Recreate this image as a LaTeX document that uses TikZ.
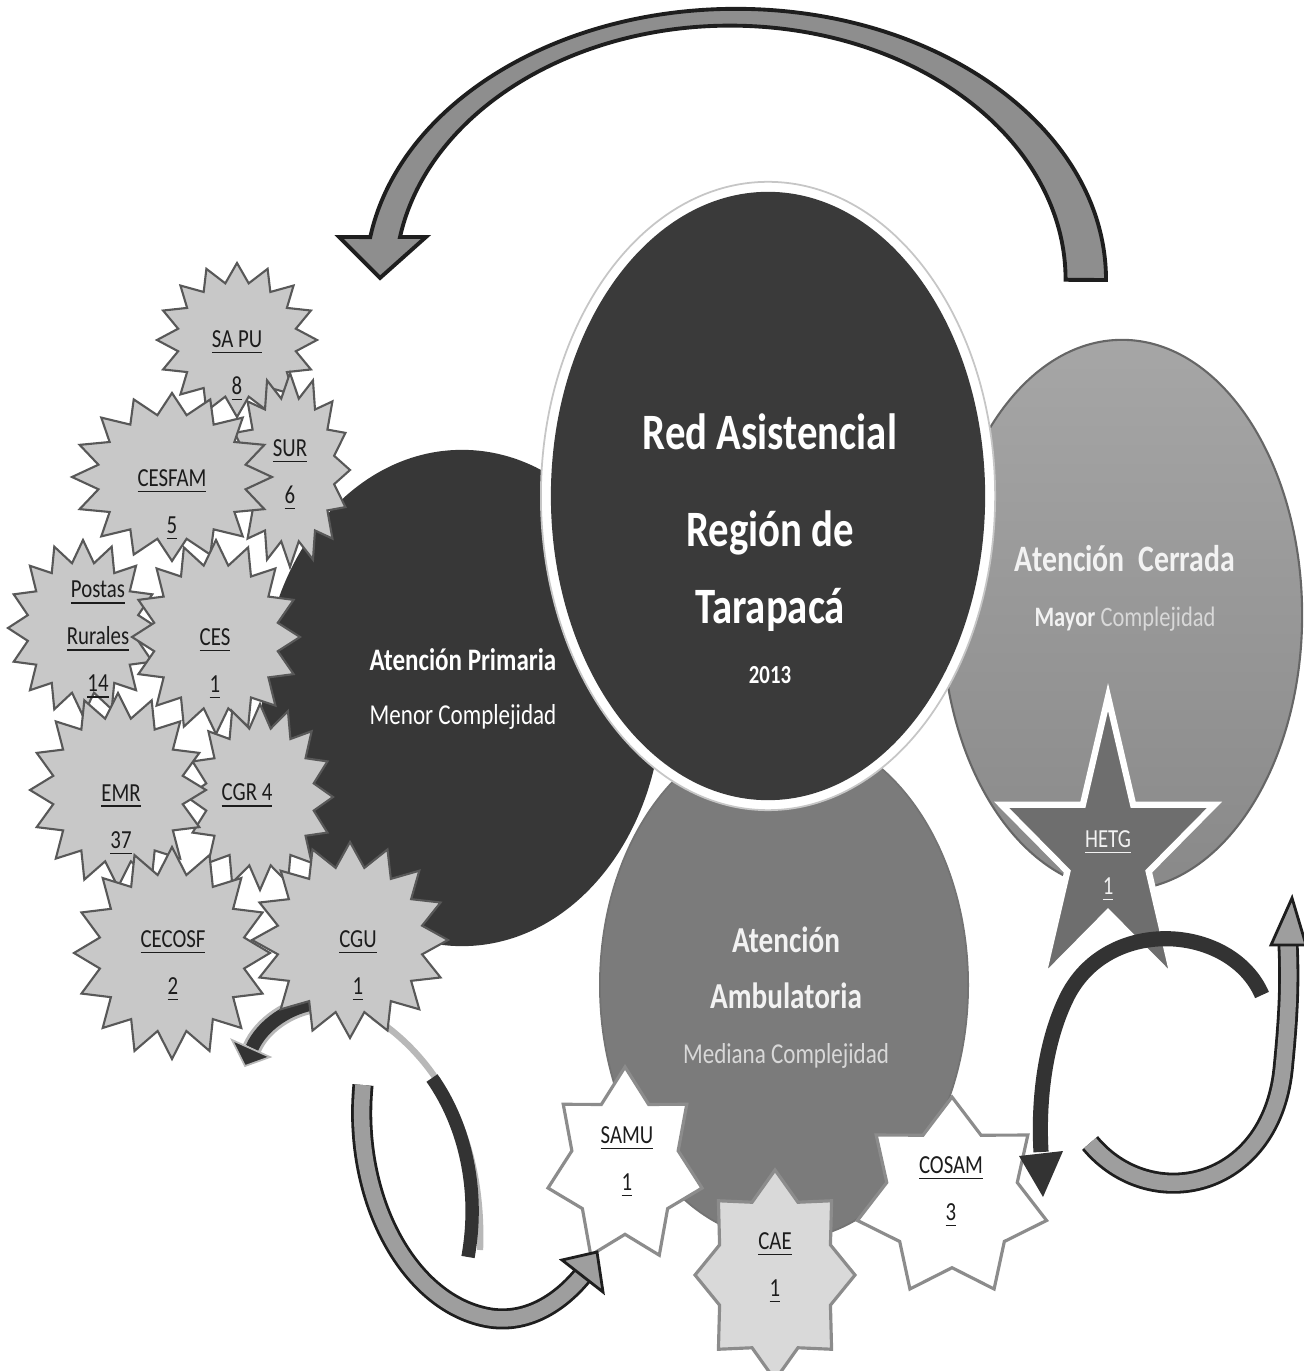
\documentclass[tikz,border=0pt]{standalone}
\usepackage{fontspec}
\setmainfont{Carlito}[FakeStretch=0.8]

\definecolor{coredark}{HTML}{3A3A3A}
\definecolor{primdark}{HTML}{373737}
\definecolor{ambgray}{HTML}{7B7B7B}
\definecolor{cerrtop}{HTML}{A6A6A6}
\definecolor{cerrbot}{HTML}{898989}
\definecolor{hetggray}{HTML}{6E6E6E}
\definecolor{burstgray}{HTML}{C8C8C8}
\definecolor{burstline}{HTML}{585858}
\definecolor{smallline}{HTML}{8C8C8C}
\definecolor{caegray}{HTML}{D9D9D9}
\definecolor{arrowgray}{HTML}{8E8E8E}
\definecolor{arrowline}{HTML}{1E1E1E}
\definecolor{bandgray}{HTML}{9E9E9E}
\definecolor{banddark}{HTML}{333333}
\definecolor{halogray}{HTML}{B8B8B8}
\definecolor{lbltext}{HTML}{1C1C1C}
\definecolor{softwhite}{HTML}{F2F2F2}
\definecolor{subwhite}{HTML}{D8D8D8}

% estrella de #6 puntas, centro (#2,#3), radios #4 y #5, razon interior #7
\newcommand\burst[7][]{%
  \pgfmathtruncatemacro\burstlast{2*#6-1}%
  \filldraw[#1] (#2,{#3-#5})
    \foreach \k [evaluate=\k as \rr using {mod(\k,2)==0 ? 1 : #7}] in {1,...,\burstlast}
      { -- ({#2+\rr*#4*cos(90+180*\k/#6)},{#3-\rr*#5*sin(90+180*\k/#6)}) }
    -- cycle;}

\begin{document}
\begin{tikzpicture}[x=0.01cm, y=-0.01cm,
    grayburst/.style={fill=burstgray, draw=burstline, line width=0.6pt, line join=miter},
    whiteburst/.style={fill=white, draw=smallline, line width=0.9pt, line join=miter},
    caeburst/.style={fill=caegray, draw=smallline, line width=0.9pt, line join=miter},
    hetgburst/.style={fill=hetggray, draw=white, line width=1.8pt, line join=miter},
    toparrow/.style={fill=arrowgray, draw=arrowline, line width=1.1pt, line join=miter},
    band/.style={draw=arrowline, double=bandgray, double distance=4.4pt, line width=0.8pt},
    darkband/.style={draw=banddark, line width=3.8pt},
    halo/.style={draw=halogray, line width=1.8pt},
    grayhead/.style={fill=bandgray, draw=arrowline, line width=0.8pt, line join=miter},
    darkhead/.style={fill=banddark, draw=banddark, line width=0.5pt, line join=miter},
    burstlbl/.style={font=\fontsize{7.4}{13.4}\selectfont, text=lbltext, align=center, inner sep=0pt},
    corelbl/.style={font=\fontsize{14.5}{21.9}\selectfont\bfseries, text=white, align=center, inner sep=0pt},
    yearlbl/.style={font=\fontsize{7.4}{9}\selectfont\bfseries, text=white, inner sep=0pt},
    primlbl/.style={font=\fontsize{8.9}{15.1}\selectfont, text=white, align=center, inner sep=0pt},
    cerrlbl/.style={font=\fontsize{10.6}{15.6}\selectfont, text=softwhite, align=center, inner sep=0pt},
    amblbl/.style={font=\fontsize{10.4}{15.8}\selectfont, text=softwhite, align=center, inner sep=0pt}
]
\useasboundingbox (0,0) rectangle (1303,1371);

% --- flecha superior ---
\filldraw[toparrow] (1106,280) arc[start angle=0, end angle=170.9, x radius=3.70cm, y radius=2.71cm]
    -- (339,237) -- (380,278) -- (426,237) -- (400,237)
    arc[start angle=170.3, end angle=0, x radius=3.35cm, y radius=2.54cm] -- cycle;

% --- niveles de atencion ---
\draw[top color=cerrtop, bottom color=cerrbot, draw=black!60, line width=0.6pt]
    (1122,615) ellipse [x radius=1.80cm, y radius=2.75cm];
\burst[hetgburst]{1108}{853}{112}{156}{5}{0.382}
\filldraw[fill=ambgray, draw=black!55, line width=0.5pt] (784,985) ellipse [x radius=1.84cm, y radius=2.55cm];
\fill[primdark] (462,698) ellipse [x radius=2.00cm, y radius=2.48cm];
\filldraw[fill=white, draw=gray!45, line width=0.5pt] (768,496) ellipse [x radius=2.27cm, y radius=3.14cm];
\fill[coredark] (768,496) ellipse [x radius=2.17cm, y radius=3.04cm];

% --- establecimientos de atencion primaria ---
\burst[grayburst]{237}{340}{80}{77}{16}{0.75}
\burst[grayburst]{290}{470}{60}{97}{16}{0.75}
\burst[grayburst]{172}{477}{100}{84}{16}{0.75}
\burst[grayburst]{83}{628}{75}{88}{16}{0.75}
\burst[grayburst]{216}{637}{84}{97}{16}{0.75}
\burst[grayburst]{260}{797}{73}{93}{16}{0.75}
\burst[grayburst]{118}{790}{88}{97}{16}{0.75}
\burst[grayburst]{172}{953}{98}{106}{16}{0.75}

% flecha oscura junto a CGU
\draw[halogray, line width=5.5pt] (318,1003) .. controls (290,1006) and (262,1025) .. (252,1048);
\draw[darkband] (318,1003) .. controls (290,1006) and (262,1025) .. (252,1048);
\filldraw[darkhead, draw=halogray] (232,1040) -- (270,1057) -- (245,1066) -- cycle;
% sombra clara desde CGU
\draw[halo] (373,1017) .. controls (440,1060) and (484,1140) .. (480,1250);

\burst[grayburst]{350}{940}{98}{98}{16}{0.75}

% --- establecimientos de especialidad ---
\burst[whiteburst]{625}{1166}{79}{99}{7}{0.69}
\burst[caeburst]{775}{1275}{80}{105}{8}{0.75}
\burst[whiteburst]{952}{1198}{97}{101}{7}{0.69}

% --- flechas inferiores izquierda ---
\draw[darkband] (432,1078) .. controls (465,1125) and (480,1190) .. (468,1257);
\draw[band] (363,1085) .. controls (352,1200) and (410,1305) .. (490,1318)
    .. controls (530,1324) and (562,1300) .. (582,1276);
\filldraw[grayhead] (562,1260) -- (597,1252) -- (603,1292) -- cycle;

% --- flechas inferiores derecha ---
\draw[darkband, line width=4.3pt] (1262,995) .. controls (1232,925) and (1110,915) .. (1068,995)
    .. controls (1045,1040) and (1038,1100) .. (1041,1152);
\fill[banddark] (1019,1156) -- (1063,1151) -- (1043,1197) -- cycle;
\draw[band] (1090,1143) .. controls (1150,1215) and (1270,1190) .. (1283,1070)
    .. controls (1288,1020) and (1290,985) .. (1288,945);
\filldraw[grayhead] (1271,945) -- (1292,898) -- (1306,945) -- cycle;

% --- textos ---
\node[corelbl] (red) at (770,523) {Red Asistencial\\[5.7pt]Región de\\Tarapacá};
\node[yearlbl] (year) at (770,675) {2013};
\node[primlbl] (primaria) at (463,689) {\textbf{Atención Primaria}\\{\fontsize{8.2}{15.1}\selectfont Menor Complejidad}};
\node[cerrlbl] (cerrada) at (1125,588) {\textbf{Atención\ \ Cerrada}\\{\fontsize{8}{15.6}\selectfont\textbf{Mayor} \color{subwhite}Complejidad}};
\node[amblbl] (ambulatoria) at (786,998) {\textbf{Atención}\\\textbf{Ambulatoria}\\{\fontsize{8.2}{15.8}\selectfont\color{subwhite}Mediana Complejidad}};

\node[burstlbl] (sapu) at (237,366) {\underline{SA PU}\\\underline{8}};
\node[burstlbl] (sur) at (290,475) {\underline{SUR}\\\underline{6}};
\node[burstlbl] (cesfam) at (172,505) {\underline{CESFAM}\\\underline{5}};
\node[burstlbl] (postas) at (98,640) {\underline{Postas}\\\underline{Rurales}\\\underline{14}};
\node[burstlbl] (ces) at (215,664) {\underline{CES}\\\underline{1}};
\node[burstlbl] (emr) at (121,820) {\underline{EMR}\\\underline{37}};
\node[burstlbl] (cgr) at (247,796) {\underline{CGR 4}};
\node[burstlbl] (cecosf) at (173,966) {\underline{CECOSF}\\\underline{2}};
\node[burstlbl] (cgu) at (358,966) {\underline{CGU}\\\underline{1}};
\node[burstlbl] (samu) at (627,1162) {\underline{SAMU}\\\underline{1}};
\node[burstlbl] (cae) at (775,1268) {\underline{CAE}\\\underline{1}};
\node[burstlbl] (cosam) at (951,1192) {\underline{COSAM}\\\underline{3}};
\node[burstlbl, text=softwhite] (hetg) at (1108,866) {\underline{HETG}\\\underline{1}};
\end{tikzpicture}
\end{document}
